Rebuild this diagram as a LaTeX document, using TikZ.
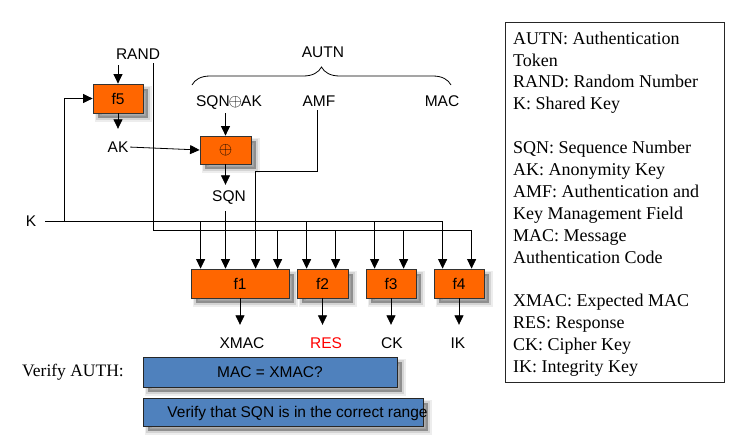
\documentclass[tikz,border=0pt]{standalone}
\usepackage{fontspec}
\setmainfont{Liberation Sans}
\newfontfamily\legendfont{Liberation Serif}
\usetikzlibrary{arrows.meta,shadows,decorations.pathreplacing,calc}
\definecolor{forange}{HTML}{FF6600}
\definecolor{vblue}{HTML}{4F81BD}
\begin{document}
\begin{tikzpicture}[x=1pt,y=-1pt,
  lw/.style={line width=0.8pt},
  arr/.style={lw,-{Triangle[length=9.5pt,width=9pt]}},
  wire/.style={lw},
  lbl/.style={font=\fontsize{15.5}{18}\selectfont, inner sep=0pt, text height=11pt, text depth=0pt},
  shade/.style={
    general shadow={shadow xshift=5pt, shadow yshift=-5pt, draw=black, draw opacity=0.07, line width=7pt, fill=black, fill opacity=0.0},
    general shadow={shadow xshift=5pt, shadow yshift=-5pt, draw=black, draw opacity=0.10, line width=3.5pt, fill=black, fill opacity=0.0},
    general shadow={shadow xshift=5pt, shadow yshift=-5pt, fill=black, fill opacity=0.32}},
  fbox/.style={draw=black!80, line width=0.8pt, fill=forange, shade,
    font=\fontsize{15.5}{18}\selectfont, minimum height=29pt, inner sep=0pt},
  vbox/.style={draw=black!85, line width=0.8pt, fill=vblue, shade,
    font=\fontsize{15.5}{18}\selectfont, inner sep=0pt, text height=11pt, text depth=0pt}
]
\fill[white] (0,0) rectangle (745,442);
\useasboundingbox (0,0) rectangle (745,442);

% labels and boxes
\node[lbl] (rand) at (138,54) {RAND};
\node[fbox, minimum width=50pt] (f5) at (118,98.5) {f5};
\node[lbl] (ak) at (118,147) {AK};
\node[fbox, minimum width=51pt, minimum height=28pt, font=\fontsize{19}{20}\selectfont] (xor) at (225.5,150) {$\oplus$};
\node[lbl] (sqnak) at (229,101) {SQN\kern-1pt{\fontsize{18}{18}\selectfont$\oplus$}\kern-1pt AK};
\node[lbl] (sqn) at (229,196) {SQN};
\node[lbl] (autn) at (323,52) {AUTN};
\node[lbl] (amf) at (319,101) {AMF};
\node[lbl] (mac) at (442,101) {MAC};
\node[lbl] (k) at (31,221) {K};

\node[fbox, minimum width=98pt] (f1) at (240,283.5) {f1};
\node[fbox, minimum width=51pt] (f2) at (322.5,283.5) {f2};
\node[fbox, minimum width=50pt] (f3) at (391,283.5) {f3};
\node[fbox, minimum width=50pt] (f4) at (459,283.5) {f4};

\node[lbl] (xmac) at (242,343) {XMAC};
\node[lbl, text=red] (res) at (326,343) {RES};
\node[lbl] (ck) at (392,343) {CK};
\node[lbl] (ik) at (458,343) {IK};

\node[font=\legendfont\fontsize{17.5}{20}\selectfont, inner sep=0pt] (verify) at (73,372) {Verify AUTH:};
\node[vbox, minimum width=254pt, minimum height=30pt] (macbox) at (270,372) {MAC = XMAC?};
\node[vbox, minimum width=280pt, minimum height=28pt] (rangebox) at (283,412) {};
\node[lbl] (rangetext) at (297.5,412) {Verify that SQN is in the correct range};

% legend
\node[draw=black!85, lw, minimum width=219pt, minimum height=360pt, anchor=north west, inner sep=0pt] (legend) at (505,22) {};
\node[anchor=north west, align=left, inner sep=0pt, font=\legendfont\fontsize{18}{21.9}\selectfont] (legendtext) at (513,31.5)
{AUTN: Authentication\\Token\\RAND: Random Number\\K: Shared Key\\[21.9pt]
SQN: Sequence Number\\AK: Anonymity Key\\AMF: Authentication and\\Key Management Field\\MAC: Message\\Authentication Code\\[21.9pt]
XMAC: Expected MAC\\RES: Response\\CK: Cipher Key\\IK: Integrity Key};

% brace
\coordinate (bl) at (192,85);
\coordinate (br) at (451,85);
\draw[lw, decorate, decoration={brace, amplitude=18pt}] (bl) -- (br);

% coordinates for buses
\coordinate (kf5) at (64,221);
\coordinate (rbus) at (153,230);
\coordinate (amfturn) at (317,171);

% f5 inputs / output
\draw[arr, shorten <=5.5pt] (f5.north |- rand.south) -- (f5.north);
\draw[arr] (kf5) |- (f5.west);
\draw[arr, shorten >=12.5pt] (f5.south) -- (ak.north);
\draw[arr, shorten <=1.7pt] (ak.east) -- (xor.west);
\draw[arr, shorten <=6.5pt] (xor.north |- sqnak.south) -- (xor.north);
\draw[arr, shorten >=5.5pt] (xor.south) -- (xor.south |- sqn.north);

% K bus
\draw[arr, shorten <=9pt] (k.east) -| ([xshift=9pt]f4.north west);
\draw[arr] ([xshift=10pt]f1.north west |- k.east) -- ([xshift=10pt]f1.north west);
\draw[arr] ([xshift=10pt]f2.north west |- k.east) -- ([xshift=10pt]f2.north west);
\draw[arr] ([xshift=9pt]f3.north west |- k.east) -- ([xshift=9pt]f3.north west);

% RAND bus
\draw[arr, shorten <=3.5pt] (rand.south -| rbus) -- (rbus) -| ([xshift=38pt]f4.north west);
\draw[arr] ([xshift=87pt]f1.north west |- rbus) -- ([xshift=87pt]f1.north west);
\draw[arr] ([xshift=39pt]f2.north west |- rbus) -- ([xshift=39pt]f2.north west);
\draw[arr] ([xshift=38pt]f3.north west |- rbus) -- ([xshift=38pt]f3.north west);

% SQN and AMF into f1
\draw[arr, shorten <=9.5pt] (sqn.south -| xor.south) -- (xor.south |- f1.north);
\draw[arr, shorten <=3.5pt] (amf.south -| amfturn) -- (amfturn) -| ([xshift=65pt]f1.north west);

% outputs
\draw[arr, shorten >=12.5pt] (f1.south) -- (f1.south |- xmac.north);
\draw[arr, shorten >=12.5pt] (f2.south) -- (f2.south |- res.north);
\draw[arr, shorten >=12.5pt] (f3.south) -- (f3.south |- ck.north);
\draw[arr, shorten >=12.5pt] (f4.south) -- (f4.south |- ik.north);
\end{tikzpicture}
\end{document}
